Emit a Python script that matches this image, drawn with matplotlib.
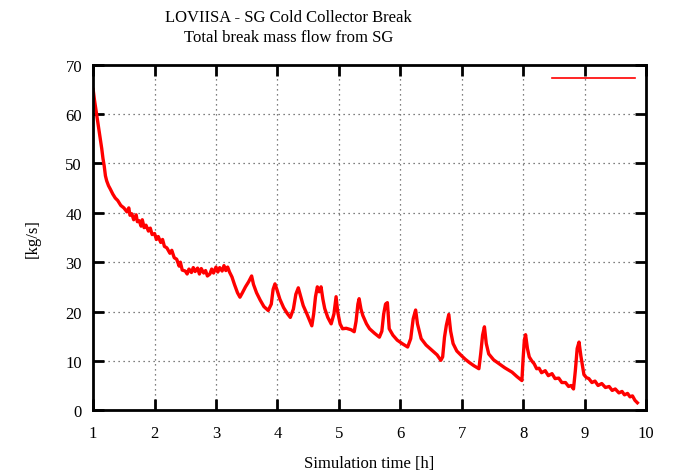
import matplotlib.pyplot as plt

# Total break mass flow from SG
time_h = [1.00, 1.02, 1.05, 1.08, 1.11, 1.14, 1.16, 1.18, 1.20, 1.22, 1.25, 1.28,
          1.32, 1.36, 1.40, 1.45, 1.50, 1.55, 1.58, 1.60, 1.63, 1.66, 1.70, 1.72,
          1.75, 1.78, 1.80, 1.83, 1.86, 1.90, 1.93, 1.96, 2.00, 2.03, 2.06, 2.10,
          2.13, 2.16, 2.20, 2.25, 2.28, 2.32, 2.36, 2.40, 2.42, 2.45, 2.50, 2.53,
          2.56, 2.60, 2.63, 2.66, 2.70, 2.73, 2.76, 2.80, 2.83, 2.86, 2.90, 2.93,
          2.96, 3.00, 3.03, 3.06, 3.10, 3.13, 3.16, 3.19, 3.22, 3.26, 3.30, 3.35,
          3.39, 3.43, 3.48, 3.53, 3.58, 3.61, 3.66, 3.72, 3.78, 3.85, 3.90, 3.93,
          3.96, 3.99, 4.04, 4.10, 4.16, 4.21, 4.26, 4.30, 4.34, 4.38, 4.42, 4.48,
          4.53, 4.56, 4.59, 4.62, 4.65, 4.68, 4.71, 4.74, 4.77, 4.82, 4.875, 4.92,
          4.955, 4.98, 5.02, 5.06, 5.12, 5.20, 5.25, 5.28, 5.31, 5.33, 5.36, 5.39,
          5.45, 5.50, 5.58, 5.66, 5.70, 5.73, 5.76, 5.79, 5.82, 5.88, 5.95, 6.03,
          6.12, 6.17, 6.21, 6.25, 6.28, 6.34, 6.42, 6.52, 6.60, 6.66, 6.69, 6.72,
          6.75, 6.79, 6.82, 6.86, 6.92, 7.00, 7.06, 7.12, 7.20, 7.28, 7.31, 7.34,
          7.37, 7.40, 7.44, 7.52, 7.61, 7.70, 7.82, 7.90, 7.98, 8.00, 8.02, 8.04,
          8.07, 8.10, 8.14, 8.18, 8.22, 8.26, 8.30, 8.36, 8.41, 8.47, 8.52, 8.58,
          8.63, 8.69, 8.74, 8.78, 8.82, 8.85, 8.88, 8.91, 8.94, 8.99, 9.03, 9.07,
          9.12, 9.17, 9.22, 9.28, 9.34, 9.40, 9.45, 9.50, 9.56, 9.61, 9.65, 9.70,
          9.74, 9.78, 9.82, 9.86]
mass_flow = [65.0, 63.0, 60.5, 58.0, 55.5, 53.0, 51.0, 49.5, 47.5, 46.5, 45.5, 44.8,
             43.8, 43.0, 42.5, 41.5, 41.0, 40.2, 41.0, 39.5, 39.8, 38.6, 39.6, 38.2,
             38.4, 37.3, 38.6, 37.0, 37.5, 36.3, 36.9, 35.6, 35.8, 34.6, 35.2, 34.0,
             34.6, 33.2, 32.9, 31.8, 32.4, 30.9, 30.6, 29.2, 30.0, 28.4, 28.2, 27.6,
             28.6, 27.9, 28.9, 28.1, 28.8, 27.6, 28.7, 27.8, 28.3, 27.2, 27.6, 28.6,
             27.8, 29.0, 28.0, 28.9, 28.2, 29.3, 28.3, 29.0, 28.0, 27.0, 25.5, 23.8,
             22.9, 23.8, 25.0, 26.0, 27.2, 25.5, 23.8, 22.3, 21.0, 20.2, 21.5, 24.5,
             25.6, 24.5, 22.5, 20.8, 19.6, 18.8, 20.5, 23.5, 24.8, 23.0, 21.2, 19.5,
             18.0, 17.1, 19.5, 23.0, 25.0, 24.0, 25.0, 22.5, 20.6, 18.8, 17.5, 19.5,
             23.0, 20.0, 17.5, 16.5, 16.6, 16.3, 15.9, 18.0, 21.5, 22.6, 20.5, 19.2,
             17.5, 16.5, 15.6, 14.8, 16.0, 19.5, 21.5, 21.8, 16.5, 15.2, 14.2, 13.5,
             12.8, 14.5, 18.5, 20.3, 17.5, 14.5, 13.2, 12.1, 11.2, 10.1, 10.8, 14.8,
             17.2, 19.4, 16.0, 13.5, 12.0, 11.0, 10.3, 9.7, 9.0, 8.4, 11.5, 15.2,
             16.9, 13.5, 11.4, 10.2, 9.4, 8.6, 7.7, 6.8, 6.0, 10.5, 14.2, 15.3,
             12.5, 10.8, 10.0, 9.4, 8.4, 8.5, 7.6, 8.0, 7.0, 7.4, 6.4, 6.5,
             5.6, 5.6, 4.8, 5.0, 4.3, 8.0, 12.5, 13.8, 11.0, 7.2, 6.6, 6.4,
             5.6, 5.9, 5.0, 5.4, 4.6, 4.8, 4.0, 4.3, 3.5, 3.8, 3.1, 3.4,
             2.7, 2.9, 2.0, 1.5]

x_ticks = list(range(1, 11))
y_ticks = list(range(0, 71, 10))

plt.rcParams['font.family'] = ['Liberation Serif', 'DejaVu Serif']

fig = plt.figure(figsize=(6.75, 4.77), dpi=100)
ax = fig.add_axes([0.138, 0.138, 0.819, 0.724])

line, = ax.plot(time_h, mass_flow, color='#ff0000', linewidth=2.4)

ax.set_xlim(1, 10)
ax.set_ylim(0, 70)
ax.set_xticks(x_ticks)
ax.set_yticks(y_ticks)
ax.tick_params(direction='in', length=8, width=2, labelsize=12,
               top=True, right=True)
ax.tick_params(axis='x', pad=11)
ax.tick_params(axis='y', pad=8)
for spine in ax.spines.values():
    spine.set_linewidth(2)

ax.grid(True, linestyle=(0, (1, 3)), color='#555555', linewidth=0.9)

ax.set_xlabel('Simulation time [h]', fontsize=12, labelpad=10)
ax.set_ylabel('[kg/s]', fontsize=12, labelpad=18)
fig.text(0.427, 0.979, 'LOVIISA - SG Cold Collector Break\nTotal break mass flow from SG',
         ha='center', va='top', fontsize=12, linespacing=1.35)

# empty key, gnuplot style
leg = ax.legend([line], [''], loc='upper right', frameon=False, handlelength=5.0,
                handletextpad=0.0, borderaxespad=0.2, borderpad=0.3,
                handleheight=0.5, fontsize=12, bbox_to_anchor=(0.996, 1.004))
leg.get_lines()[0].set_linewidth(1.2)

plt.savefig('out.png', dpi=100)
